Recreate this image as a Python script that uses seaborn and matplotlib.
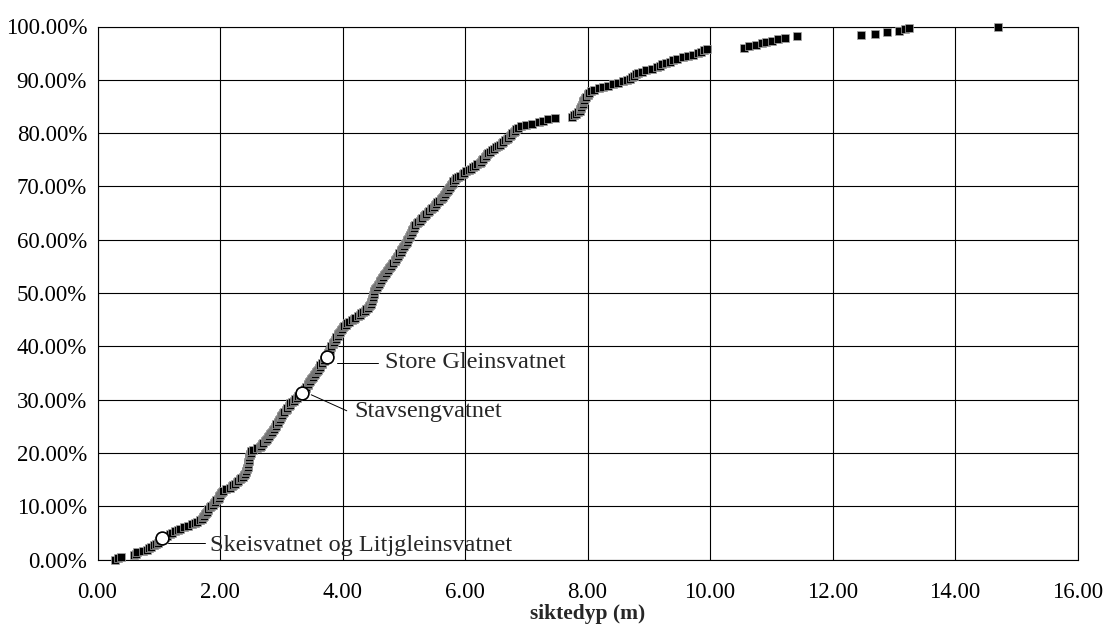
import numpy as np
import pandas as pd
import matplotlib
matplotlib.use("Agg")
import matplotlib.pyplot as plt
import seaborn as sns
from matplotlib.ticker import FuncFormatter, MultipleLocator

# Sorted Secchi depths (m)
depth_low = [0.29, 0.33, 0.39, 0.60, 0.63, 0.65, 0.74, 0.80, 0.84, 0.88, 0.92, 0.95, 0.98, 1.00, 1.02, 1.05,
             1.10, 1.14, 1.18, 1.21, 1.26, 1.31, 1.35, 1.42, 1.48, 1.54, 1.59, 1.63, 1.67, 1.70,
             1.72, 1.74, 1.75, 1.77, 1.78, 1.80, 1.81, 1.83, 1.85, 1.88, 1.90, 1.92, 1.94, 1.96, 1.98, 1.99, 2.00, 2.02, 2.03, 2.05,
             2.10, 2.16, 2.19, 2.22, 2.25, 2.28, 2.30, 2.33, 2.35, 2.37, 2.39, 2.40, 2.42, 2.43, 2.44, 2.44, 2.45, 2.45,
             2.46, 2.46, 2.47, 2.47, 2.48, 2.48, 2.49, 2.49, 2.50, 2.50]
depth_mid1 = [2.54, 2.60, 2.65, 2.67, 2.69, 2.71, 2.73, 2.75, 2.76, 2.78, 2.80, 2.82, 2.83, 2.85, 2.87, 2.88, 2.90,
              2.91, 2.92, 2.94, 2.95, 2.96, 2.98, 2.99, 3.00, 3.02, 3.03, 3.05, 3.07, 3.09, 3.10, 3.12, 3.14, 3.15,
              3.17, 3.20, 3.23, 3.26, 3.28, 3.31, 3.34,
              3.35, 3.37, 3.38, 3.40, 3.41, 3.43, 3.44, 3.46, 3.47, 3.49, 3.50, 3.52, 3.54, 3.55, 3.57, 3.58, 3.60,
              3.61, 3.63, 3.64, 3.66, 3.67, 3.69, 3.70, 3.72, 3.74, 3.75, 3.76, 3.77, 3.78, 3.79, 3.80, 3.81, 3.82,
              3.84, 3.85]
depth_mid2 = [3.86, 3.87, 3.89, 3.90, 3.92, 3.93, 3.95, 3.96, 3.98, 3.99, 4.01, 4.03, 4.05, 4.07, 4.11, 4.15,
              4.18, 4.21, 4.25, 4.28, 4.31, 4.33, 4.36, 4.38, 4.41, 4.43, 4.45, 4.46, 4.47, 4.48, 4.48, 4.49, 4.50,
              4.50, 4.51, 4.52, 4.52, 4.53,
              4.55, 4.56, 4.58, 4.59, 4.61, 4.62, 4.63, 4.65, 4.66, 4.68, 4.69, 4.71, 4.72, 4.74, 4.76, 4.77, 4.79,
              4.81, 4.83, 4.85, 4.86, 4.88, 4.89, 4.91, 4.92, 4.93, 4.95, 4.96, 4.97, 4.99, 5.00, 5.02, 5.03, 5.05,
              5.06, 5.07, 5.09, 5.10, 5.11, 5.12, 5.13, 5.14, 5.15, 5.16, 5.17, 5.18]
depth_mid3 = [5.21, 5.23, 5.26, 5.28, 5.30, 5.33, 5.35, 5.37, 5.39, 5.42, 5.44, 5.46, 5.49, 5.51, 5.53, 5.55,
              5.57, 5.60, 5.62, 5.64, 5.66, 5.68, 5.69, 5.71, 5.72, 5.74, 5.75, 5.77, 5.78, 5.80, 5.81, 5.83,
              5.86, 5.89, 5.92, 5.96, 5.99, 6.02, 6.06, 6.10, 6.13, 6.17, 6.20, 6.24, 6.26, 6.28, 6.30, 6.32, 6.34,
              6.36, 6.38, 6.40, 6.44, 6.47, 6.50, 6.54, 6.57, 6.60, 6.62, 6.65, 6.68, 6.70, 6.73, 6.75, 6.77, 6.80,
              6.82, 6.84, 6.87]
depth_high = [6.92, 7.00, 7.10, 7.20, 7.28, 7.36, 7.47, 7.74,
              7.78, 7.82, 7.85, 7.87, 7.88, 7.89, 7.90, 7.91, 7.92, 7.92, 7.93, 7.94, 7.96, 7.98, 8.00, 8.01, 8.03,
              8.06, 8.10,
              8.18, 8.25, 8.33, 8.41, 8.50, 8.58, 8.64, 8.70, 8.73, 8.76, 8.79, 8.82, 8.89, 8.96, 9.06, 9.13, 9.18,
              9.22, 9.28, 9.34, 9.40, 9.46, 9.56, 9.64, 9.72, 9.80, 9.86, 9.91, 9.95,
              10.56, 10.64, 10.75, 10.85, 10.92, 11.02, 11.11, 11.23, 11.42,
              12.47, 12.69, 12.89, 13.08, 13.19, 13.25, 14.71]

# Highlighted lakes
lake_names = ["Skeisvatnet og Litjgleinsvatnet", "Stavsengvatnet", "Store Gleinsvatnet"]
lake_depth = [1.05, 3.34, 3.74]
lake_cum = [0.041, 0.312, 0.379]

x_ticks = [0, 2, 4, 6, 8, 10, 12, 14, 16]

depth = np.array(depth_low + depth_mid1 + depth_mid2 + depth_mid3 + depth_high)
depth = np.sort(depth)
cum = np.arange(len(depth)) / (len(depth) - 1)
df = pd.DataFrame({"siktedyp": depth, "andel": cum})
lakes = pd.DataFrame({"navn": lake_names, "siktedyp": lake_depth, "andel": lake_cum})

sns.set_style("white")
plt.rcParams["font.family"] = ["Liberation Serif", "DejaVu Serif"]

fig = plt.figure(figsize=(11.11, 6.30), dpi=100)
ax = fig.add_axes([97.5 / 1111, 1 - 559.5 / 630, (1077.5 - 97.5) / 1111, (559.5 - 26.5) / 630])

sns.scatterplot(data=df, x="siktedyp", y="andel", marker="s", color="black",
                edgecolor="#a8a8a8", linewidth=0.5, s=38, ax=ax, zorder=3, clip_on=False, legend=False)
sns.scatterplot(data=lakes, x="siktedyp", y="andel", marker="o", color="white",
                edgecolor="black", linewidth=1.2, s=85, ax=ax, zorder=4, clip_on=False, legend=False)

ax.set_xlim(0, 16)
ax.set_ylim(0, 1)
ax.set_xticks(x_ticks)
ax.xaxis.set_major_formatter(FuncFormatter(lambda v, p: f"{v:.2f}"))
ax.yaxis.set_major_locator(MultipleLocator(0.1))
ax.yaxis.set_major_formatter(FuncFormatter(lambda v, p: f"{v * 100:.2f}%"))
ax.grid(True, color="black", linewidth=0.8)
ax.set_axisbelow(True)
for sp in ax.spines.values():
    sp.set_color("black")
    sp.set_linewidth(0.8)
ax.tick_params(axis="both", direction="out", length=6, width=0.8, color="black",
               labelsize=16.5, labelcolor="black")
ax.tick_params(axis="y", pad=1.5)
ax.tick_params(axis="x", pad=10)
ax.set_xlabel("siktedyp (m)", fontsize=15.5, fontweight="bold", labelpad=1)
ax.set_ylabel("")

# Annotations (leader lines + labels)
ax.plot([1.15, 1.75], [0.031, 0.031], color="black", lw=0.7, zorder=2)
ax.text(1.84, 0.027, lake_names[0], fontsize=17.5, va="center", ha="left")
ax.plot([3.49, 4.07], [0.309, 0.279], color="black", lw=0.7, zorder=2)
ax.text(4.20, 0.277, lake_names[1], fontsize=17.5, va="center", ha="left")
ax.plot([3.91, 4.58], [0.369, 0.369], color="black", lw=0.7, zorder=2)
ax.text(4.69, 0.369, lake_names[2], fontsize=17.5, va="center", ha="left")

fig.savefig("out.png", dpi=100)
